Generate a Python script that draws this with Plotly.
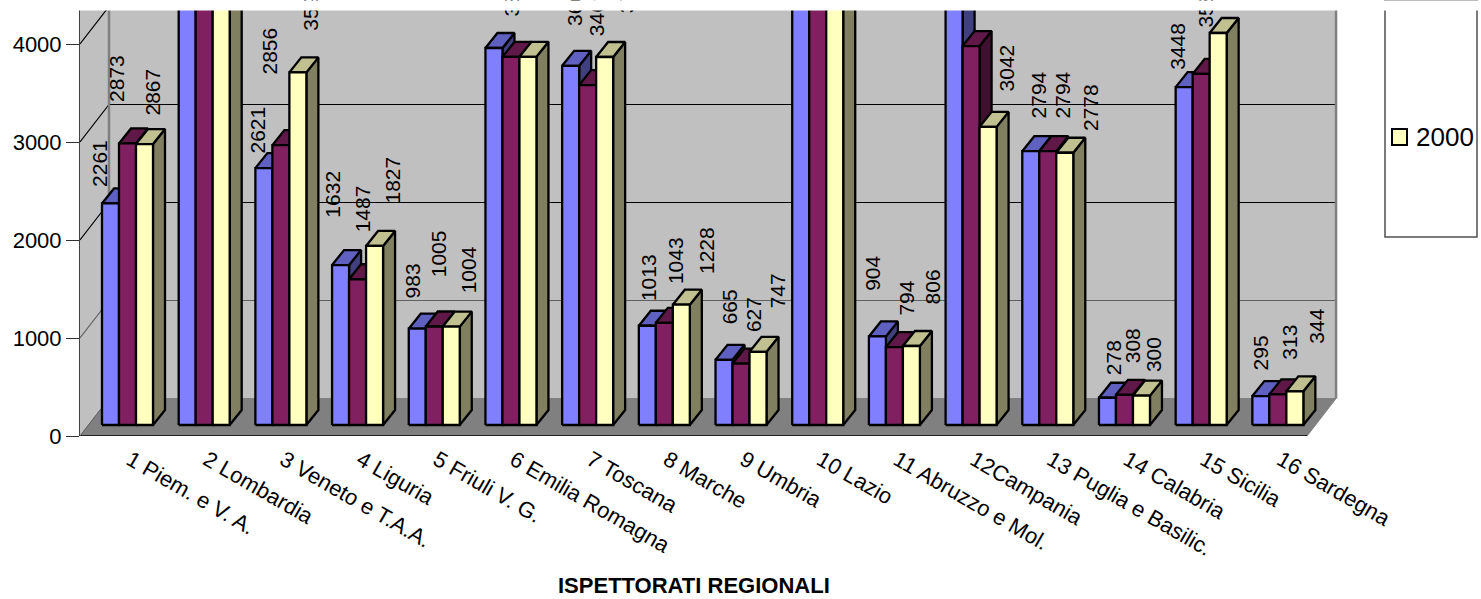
import plotly.graph_objects as go

CATEGORIES = ["1 Piem. e V. A.", "2 Lombardia", "3 Veneto e T.A.A.", "4 Liguria", "5 Friuli V. G.",
              "6 Emilia Romagna", "7 Toscana", "8 Marche", "9 Umbria", "10 Lazio", "11 Abruzzo e Mol.",
              "12Campania", "13 Puglia e Basilic.", "14 Calabria", "15 Sicilia", "16 Sardegna"]
SERIES_NAMES = ["1998", "1999", "2000"]
VALUES_A = [2261, 6100, 2621, 1632, 983, 3847, 3665, 1013, 665, 6400, 904, 5200, 2794, 278, 3448, 295]
VALUES_B = [2873, 6200, 2856, 1487, 1005, 3756, 3469, 1043, 627, 6500, 794, 3867, 2794, 308, 3582, 313]
VALUES_C = [2867, 6300, 3598, 1827, 1004, 3757, 3755, 1228, 747, 6600, 806, 3042, 2778, 300, 4000, 344]
TICK_VALUES = [0, 1000, 2000, 3000, 4000]

# Layout constants (pixels)
PLOT_L, PLOT_R, PLOT_T, PLOT_B = 80, 1340, 9, 436
SLOT_PX, PX_PER_1000 = 76.69, 98.0
BAR_W_PX, BAR_LEFT_PX = 17.0, 22.0
DEPTH_X_PX, DEPTH_Y_PX = 12.0, 15.0
BASE_UP_PX = 11.0
WALL_X_PX, WALL_Y_PX = 29.0, 37.5
LABEL_DROP_PX = 2

ux = lambda px: px / SLOT_PX
uy = lambda px: px / PX_PER_1000 * 1000
px_x = lambda px: (px - PLOT_L) / (PLOT_R - PLOT_L)
px_y = lambda px: (PLOT_B - px) / (PLOT_B - PLOT_T)

X_MAX = ux(PLOT_R - PLOT_L)
Y_MAX = uy(PLOT_B - PLOT_T)
N = len(CATEGORIES)
WX, WY = ux(WALL_X_PX), uy(WALL_Y_PX)

FACE_COLORS = [("#8080FF", "#6060C0", "#404080"),
               ("#802060", "#601848", "#401030"),
               ("#FFFFC0", "#C0C090", "#808060")]

# (dx, up) label offsets in pixels from each bar's top-centre; None = label lies outside the crop
LABEL_OFFSETS_A = [(-10.5, 17), None, (-6, 16), (-8.5, 48), (-5, 31), (18, 33), (4, 41), (0.5, 26), (5, 36), None,
                   (-4.5, 47), None, (8, 34), (5.5, 24), (-7, 18), (0, 27)]
LABEL_OFFSETS_B = [(-10.5, 42), None, (-11, 72), (5, 48), (4, 50), None, (9, 50), (10.5, 40), (12, 32), None,
                   (12.5, 33), None, (15, 34), (7.5, 33), (4, 47), (12, 36)]
LABEL_OFFSETS_C = [(8.5, 29), None, (13, 43), (17.5, 43), (17, 34), None, (22, 45), (24.5, 32), (19, 44), None,
                   (21.5, 43), (18, 36), (25, 23), (11.5, 25), None, (22, 49)]

fig = go.Figure()


def poly(xs, ys, fill, line=None, width=1.0):
    fig.add_trace(go.Scatter(x=xs, y=ys, mode="lines", fill="toself", fillcolor=fill,
                             line=dict(color=line or fill, width=width), hoverinfo="skip", showlegend=False))


def lines(xs, ys, color, width):
    fig.add_trace(go.Scatter(x=xs, y=ys, mode="lines", line=dict(color=color, width=width),
                             hoverinfo="skip", showlegend=False))


# Walls and floor
poly([0, WX, WX, 0, 0], [0, WY, Y_MAX, Y_MAX, 0], "#C0C0C0")
poly([WX, ux(1336 - 80), ux(1336 - 80), WX, WX], [WY, WY, Y_MAX, Y_MAX, WY], "#C0C0C0")
poly([0, N, N + WX, WX, 0], [0, 0, WY, WY, 0], "#808080")

for v, col in zip(TICK_VALUES[1:], ["#606060", "#000000", "#000000", "#000000"]):
    lines([0, WX, N + WX], [v, v + WY, v + WY], col, 1.2)
lines([WX, WX], [WY, Y_MAX], "#808080", 2.5)
lines([N + WX, N + WX], [WY, Y_MAX], "#808080", 2.5)
lines([0, N], [0, 0], "#202020", 2)
lines([0, WX], [0, WY], "#606060", 1)

# Bars: front, top and side faces, painted series by series
bw, dx, dy, base = ux(BAR_W_PX), ux(DEPTH_X_PX), uy(DEPTH_Y_PX), uy(BASE_UP_PX)
left0 = ux(BAR_LEFT_PX)
ALL_VALUES = [VALUES_A, VALUES_B, VALUES_C]
for s, vals in enumerate(ALL_VALUES):
    fx, fy, tx, ty, sx, sy = [], [], [], [], [], []
    for i, v in enumerate(vals):
        x0 = i + left0 + s * bw
        x1 = x0 + bw
        top = base + v
        fx += [x0, x1, x1, x0, x0, None]
        fy += [base, base, top, top, base, None]
        tx += [x0, x1, x1 + dx, x0 + dx, x0, None]
        ty += [top, top, top + dy, top + dy, top, None]
        sx += [x1, x1 + dx, x1 + dx, x1, x1, None]
        sy += [base, base + dy, top + dy, top, base, None]
    front, topc, side = FACE_COLORS[s]
    poly(sx, sy, side, "#000000", 2.3)
    poly(tx, ty, topc, "#000000", 2.3)
    poly(fx, fy, front, "#000000", 2.3)
    fig.data[-1].name = SERIES_NAMES[s]

# Data labels
for s, (vals, offs) in enumerate(zip(ALL_VALUES, [LABEL_OFFSETS_A, LABEL_OFFSETS_B, LABEL_OFFSETS_C])):
    for i, (v, off) in enumerate(zip(vals, offs)):
        if off is None:
            continue
        fig.add_annotation(x=i + left0 + (s + 0.5) * bw, y=base + v, text=str(v), textangle=-90,
                           xref="x", yref="y", showarrow=False, xanchor="center", yanchor="bottom",
                           xshift=off[0], yshift=off[1] - LABEL_DROP_PX, borderpad=0,
                           font=dict(family="Liberation Sans", size=21, color="#000000"))

# White band hiding whatever runs above the crop
fig.add_annotation(x=px_x(0), y=px_y(0), xref="paper", yref="paper", text=" ", showarrow=False, xanchor="left",
                   yanchor="top", width=1481, height=9, bgcolor="#FFFFFF", borderpad=0, font=dict(size=6))

# Legend box
shapes = [
    dict(type="rect", xref="paper", yref="paper", x0=px_x(1385), x1=px_x(1477), y0=px_y(0), y1=px_y(237),
         line=dict(color="#505050", width=1.5), fillcolor="#FFFFFF"),
    dict(type="rect", xref="paper", yref="paper", x0=px_x(1392), x1=px_x(1407), y0=px_y(129), y1=px_y(145),
         line=dict(color="#000000", width=2), fillcolor="#FFFFC0"),
]
fig.add_annotation(x=px_x(1415), y=px_y(137), xref="paper", yref="paper", text=SERIES_NAMES[2], showarrow=False,
                   xanchor="left", yanchor="middle", borderpad=0,
                   font=dict(family="Liberation Sans", size=26, color="#000000"))
# Axis title
fig.add_annotation(x=px_x(694), y=px_y(585), xref="paper", yref="paper", text="<b>ISPETTORATI REGIONALI</b>",
                   showarrow=False, xanchor="center", yanchor="middle", borderpad=0,
                   font=dict(family="Liberation Sans", size=22, color="#000000"))

fig.update_layout(
    width=1481, height=599, autosize=False, showlegend=False, hovermode=False,
    margin=dict(l=PLOT_L, r=1481 - PLOT_R, t=PLOT_T, b=599 - PLOT_B, pad=0),
    paper_bgcolor="#FFFFFF", plot_bgcolor="#FFFFFF", shapes=shapes,
    font=dict(family="Liberation Sans", color="#000000"),
    xaxis=dict(range=[0, X_MAX], tickmode="array", tickvals=[i + 0.5 for i in range(N)], ticktext=CATEGORIES,
               tickangle=30, ticks="", showgrid=False, zeroline=False, showline=False,
               tickfont=dict(size=22), ticklabelshift=12, ticklabelstandoff=6),
    yaxis=dict(range=[0, Y_MAX], tickmode="array", tickvals=TICK_VALUES, ticks="outside", ticklen=13, tickwidth=1,
               tickcolor="#303030", showgrid=False, zeroline=False, showline=True, linecolor="#404040", linewidth=1,
               tickfont=dict(size=22), ticklabelstandoff=0),
)

fig.write_html("out.html", config={"displayModeBar": False},
               post_script="document.body.style.margin='0';")
